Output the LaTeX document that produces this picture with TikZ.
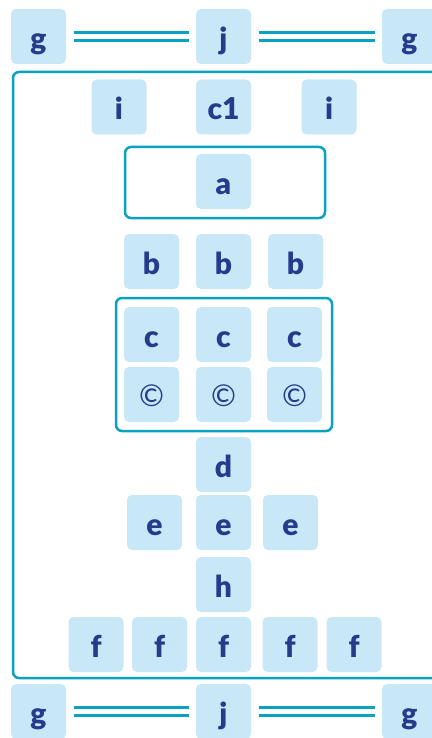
\documentclass[tikz,border=0pt]{standalone}
\usepackage{fontspec}
\setmainfont{Lato}[BoldFont={Lato Black}]
\usetikzlibrary{positioning}
\definecolor{cellblue}{HTML}{C8E8F8}
\definecolor{inkblue}{HTML}{273B8C}
\definecolor{rimteal}{HTML}{0AA2C2}

\begin{document}
\begin{tikzpicture}[x=1pt, y=-1pt,
    cell/.style={fill=cellblue, rounded corners=5pt, minimum size=55pt, inner sep=0pt,
        text height=26pt, text depth=0pt,
        text=inkblue, font=\fontsize{30}{36}\selectfont\bfseries},
    rim/.style={draw=rimteal, line width=2.5pt, rounded corners=6pt},
    link/.style={draw=rimteal, line width=3pt, double=white, double distance=5.5pt,
        shorten <=8pt, shorten >=7pt}]
    \useasboundingbox (0,0) rectangle (431,738);

    % Top row
    \node[cell] (gtl) at (38.5,36.5) {g};
    \node[cell] (jt) at (223.5,36.5) {j};
    \node[cell] (gtr) at (409.5,36.5) {g};

    % Outer frame
    \draw[rim] (13,72) rectangle (445,678);

    % i row
    \node[cell] (il) at (119,107) {i};
    \node[cell] (c1) at (223.5,107) {c1};
    \node[cell] (ir) at (329,107) {i};

    % a with its frame
    \draw[rim] (125,147) rectangle (325,218);
    \node[cell] (a) at (223.5,181.5) {a};

    % b row
    \node[cell] (bl) at (151.5,261.5) {b};
    \node[cell] (bm) at (223.5,261.5) {b};
    \node[cell] (br) at (295.5,261.5) {b};

    % c block
    \draw[rim] (116,298) rectangle (332,431);
    \foreach \n/\x in {l/151.5, m/223.5, r/294.5} {
        \node[cell] (c\n) at (\x,334.5) {c};
        \node[cell, text height=24pt, font=\fontsize{30}{36}\selectfont] (copy\n) at (\x,394.5) {©};
    }

    % d, e, h
    \node[cell] (d) at (223.5,464.5) {d};
    \node[cell] (el) at (154.5,522.5) {e};
    \node[cell] (em) at (223.5,522.5) {e};
    \node[cell] (er) at (290.5,522.5) {e};
    \node[cell] (h) at (223.5,584.5) {h};

    % f row
    \foreach \n/\x in {1/96, 2/159.5, 3/223.5, 4/290, 5/354}
        \node[cell] (f\n) at (\x,644.5) {f};

    % Bottom row
    \node[cell] (gbl) at (38.5,711.5) {g};
    \node[cell] (jb) at (223.5,711.5) {j};
    \node[cell] (gbr) at (409.5,711.5) {g};

    % Links
    \foreach \i/\j in {gtl/jt, jt/gtr, gbl/jb, jb/gbr}
        \draw[link] (\i) -- (\j);

\end{tikzpicture}
\end{document}
